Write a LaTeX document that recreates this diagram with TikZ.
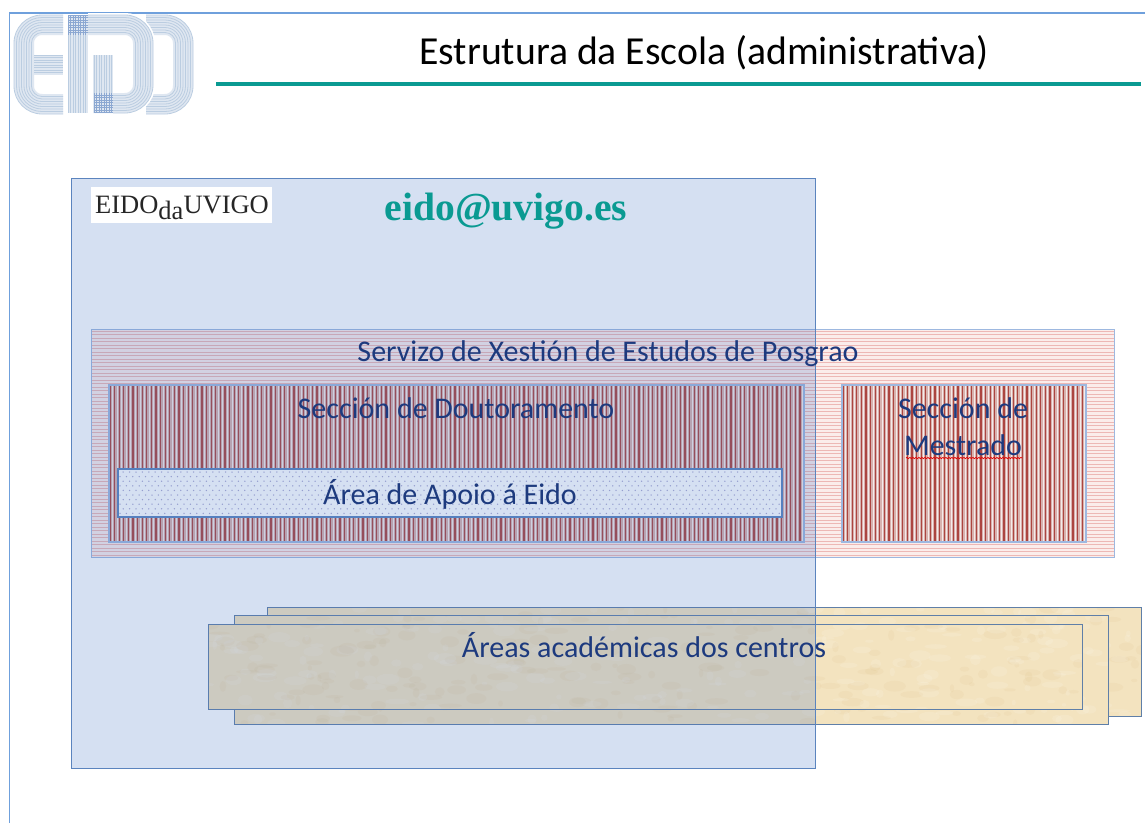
\documentclass[tikz,border=0pt]{standalone}
\usepackage{fontspec}
\setmainfont{Carlito}
\newfontfamily\serifface{Liberation Serif}
\usetikzlibrary{decorations.pathmorphing}
\definecolor{teal1}{HTML}{0A9A92}
\definecolor{navy1}{HTML}{1D3A7E}
\definecolor{frameblue}{HTML}{6FA0DC}
\definecolor{edgeblue}{HTML}{5B84BE}
\definecolor{softedge}{HTML}{9DB8E0}
\definecolor{tanbase}{HTML}{F3E3BF}
\definecolor{tanedge}{HTML}{5F7FA8}
\definecolor{logoline}{HTML}{BBCDE1}
\definecolor{logofill}{HTML}{DFE7F1}
\definecolor{logodark}{HTML}{8CA8D2}
\definecolor{veilblue}{HTML}{4472C4}
\definecolor{hstripe}{HTML}{EDB8B5}
\definecolor{hbase}{HTML}{FBEDEB}
\definecolor{vstripe}{HTML}{A83A34}
\definecolor{vbase}{HTML}{D8B2AE}
\definecolor{spotbrown}{HTML}{C89A50}
\tikzset{
  x=1pt,y=-1pt,
  lbl/.style={text=navy1,font=\fontsize{30}{34}\selectfont,inner sep=0pt,align=center},
  tanbox/.style={fill=tanbase,draw=tanedge,line width=1pt},
  logob/.style={draw=logoline,line width=0.8pt},
  logof/.style={draw=logofill,line width=20pt},
}
\begin{document}
\begin{tikzpicture}
\useasboundingbox (0,0) rectangle (1145,823);
\fill[white] (0,0) rectangle (1145,823);
% slide frame
\draw[frameblue,line width=1.4pt] (9.5,823) -- (9.5,13) -- (1145,13);
% logo: right paren
\draw[logof,rounded corners=18pt] (146,25) -- (183,25) -- (183,104) -- (146,104);
\foreach \d in {0,2.5,...,18}{
  \draw[logob,rounded corners=28pt-\d] (146,15+\d) -- (193-\d,15+\d) -- (193-\d,114-\d) -- (146,114-\d);
}
% logo: E and I and D
\draw[logof,rounded corners=18pt] (63,25) -- (24,25) -- (24,104) -- (63,104);
\fill[logofill] (34,55) rectangle (63,75);
\fill[logofill] (68,15) rectangle (88,113);
\fill[logofill] (93,55) rectangle (113,113);
\draw[white,line width=24pt,rounded corners=18pt] (88,25) -- (143,25) -- (143,103) -- (113,103);
\draw[logof,rounded corners=18pt] (68,25) -- (143,25) -- (143,103) -- (93,103);
\foreach \d in {0,2.5,...,18}{
  \draw[logob,rounded corners=28pt-\d] (63,15+\d) -- (14+\d,15+\d) -- (14+\d,114-\d) -- (63,114-\d);
  \draw[logob] (34,55+\d) -- (63,55+\d);
  \draw[logob] (68+\d,15) -- (68+\d,113);
  \draw[logob] (94+\d,55) -- (94+\d,113);
  \draw[logob,rounded corners=28pt-\d] (88,15+\d) -- (153-\d,15+\d) -- (153-\d,113-\d) -- (113,113-\d);
  \draw[logodark,line width=0.55pt] (68+\d,15) -- (68+\d,35);
  \draw[logodark,line width=0.55pt] (68,15+\d) -- (88,15+\d);
  \draw[logodark,line width=0.55pt] (94+\d,93) -- (94+\d,113);
  \draw[logodark,line width=0.55pt] (94,95+\d) -- (113,95+\d);
}
% title
\node[inner sep=0pt,text=black,font=\fontsize{39.7}{44}\selectfont] (title) at (704,52.5) {Estrutura da Escola (administrativa)};
\draw[teal1,line width=3.5pt] (216,84) -- (1141,84);
% tan boxes
\foreach \a/\b/\c/\e/\s in {267/607/1141/716/11,234/615/1108/724/22,208/624/1082/709/33}{
  \draw[tanbox] (\a,\b) rectangle (\c,\e);
  \begin{scope}
    \clip (\a,\b) rectangle (\c,\e);
    \pgfmathsetseed{\s}
    \foreach \i in {1,...,320}{
      \pgfmathsetmacro{\px}{\a+rnd*(\c-\a)}
      \pgfmathsetmacro{\py}{\b+rnd*(\e-\b)}
      \pgfmathsetmacro{\rx}{2+rnd*10}
      \pgfmathsetmacro{\ry}{1.5+rnd*4}
      \pgfmathsetmacro{\dk}{rnd}
      \ifdim\dk pt<0.55pt
        \fill[white,opacity=0.12] (\px,\py) ellipse[x radius=\rx,y radius=\ry];
      \else
        \fill[spotbrown,opacity=0.06] (\px,\py) ellipse[x radius=\rx,y radius=\ry];
      \fi
    }
  \end{scope}
  \draw[tanedge,line width=1pt] (\a,\b) rectangle (\c,\e);
}
% Servizo box
\fill[hbase] (91,329) rectangle (1114,557);
\begin{scope}
  \clip (91,329) rectangle (1114,557);
  \foreach \y in {331,334.5,...,557}{
    \draw[hstripe,line width=1pt] (91,\y) -- (1114,\y);
  }
\end{scope}
\draw[softedge,line width=0.9pt] (91,329) rectangle (1114,557);
% Doutoramento and Mestrado boxes
\foreach \a/\c in {109/804,842/1086}{
  \fill[vbase] (\a,385) rectangle (\c,542);
  \begin{scope}
    \clip (\a,385) rectangle (\c,542);
    \pgfmathsetmacro{\stepB}{\a+4.6}
    \foreach \x in {\a,\stepB,...,\c}{
      \draw[vstripe,line width=1.35pt,opacity=.9] (\x+1,385) -- (\x+1,542);
      \draw[white,line width=0.55pt,opacity=.75] (\x+3.2,385) -- (\x+3.2,542);
    }
  \end{scope}
  \draw[softedge,line width=1.1pt] (\a,385) rectangle (\c,542);
}
% Apoio box
\fill[white] (118,469) rectangle (782,517);
\foreach \y [count=\r] in {472,476.6,...,516}{
  \pgfmathsetmacro{\ox}{mod(\r,2)*3.2}
  \foreach \x in {120,126.4,...,780}{
    \fill[gray!70!blue,opacity=.5] (\x+\ox,\y) circle[radius=0.75];
  }
}
\draw[edgeblue,line width=1.1pt] (118,469) rectangle (782,517);
% large blue translucent box
\fill[veilblue,opacity=.22] (71,178) rectangle (815,768);
\draw[edgeblue,line width=0.9pt] (71,178) rectangle (815,768);
% labels
\node[fill=white,inner sep=0pt,minimum width=181pt,minimum height=36pt] (badge) at (181.5,205) {};
\node[inner sep=0pt,anchor=base west,text=black!85,font=\serifface\fontsize{26.5}{30}\selectfont] (badgetext) at (95,213) {EIDO\raisebox{-6pt}{da}UVIGO};
\node[inner sep=0pt,text=teal1,font=\serifface\bfseries\fontsize{39.6}{44}\selectfont] (mail) at (506,211.5) {eido@uvigo.es};
\node[lbl] (servizo) at (608,354) {Servizo de Xestión de Estudos de Posgrao};
\node[lbl] (dout) at (456,408.5) {Sección de Doutoramento};
\node[lbl,anchor=base] (mest1) at (963,418) {Sección de};
\node[lbl,anchor=base] (mest2) at (963,455) {Mestrado};
\draw[red!90!black,line width=0.7pt,decorate,decoration={snake,amplitude=0.7pt,segment length=3pt}] (906,458) -- (1022,458);
\node[lbl] (apoio) at (450,494) {Área de Apoio á Eido};
\node[lbl] (areas) at (644,645.5) {Áreas académicas dos centros};
\end{tikzpicture}
\end{document}
